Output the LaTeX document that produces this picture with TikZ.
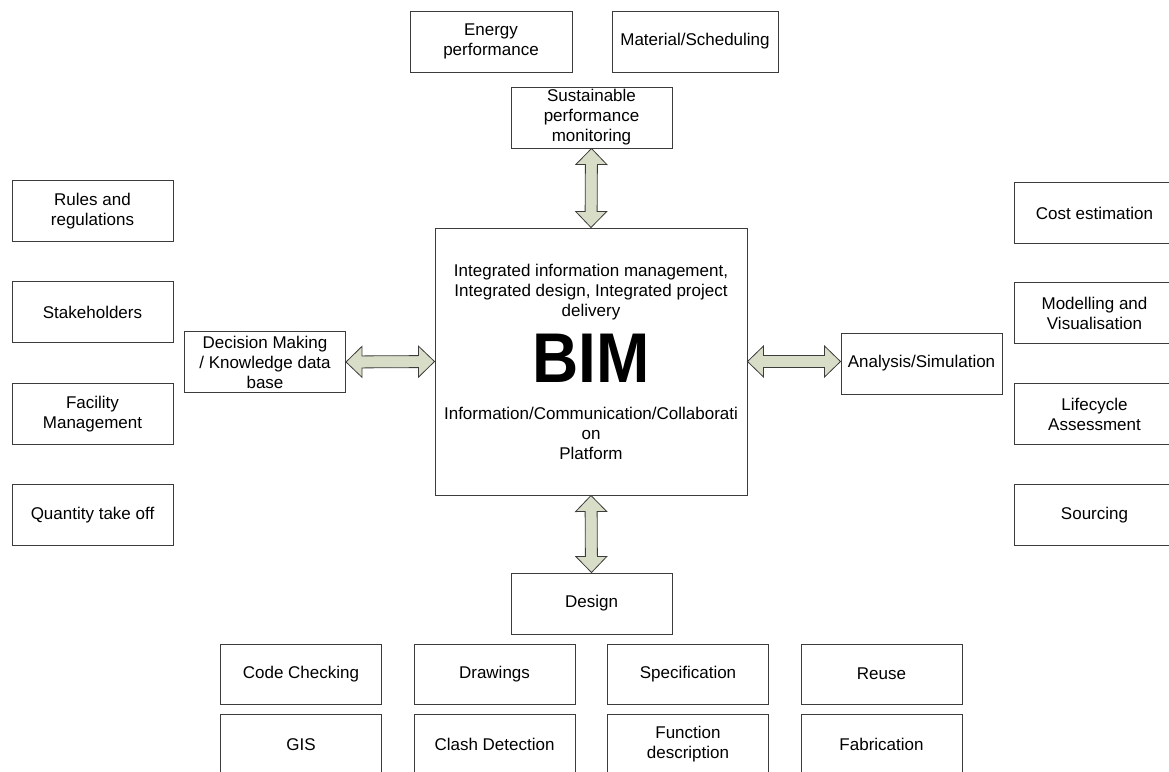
\documentclass[tikz,border=0pt]{standalone}
\usepackage{fontspec}
\setmainfont{Liberation Sans}
\usetikzlibrary{calc}
\definecolor{arrowfill}{RGB}{216,221,199}
\definecolor{edge}{RGB}{60,60,60}

\begin{document}
\begin{tikzpicture}
        [x=1pt,y=-1pt,font=\fontsize{17}{20}\selectfont]
            \tikzstyle{box}=[rectangle, draw=edge, line width=1pt, fill=white,
        align=center, inner sep=2pt, minimum width=161pt, minimum height=61pt]
            \tikzstyle{plain}=[align=center, inner sep=0pt]
            \tikzstyle{fatarrow}=[draw=edge, line width=0.8pt, fill=arrowfill,
        line join=miter, to path={
          -- ($(\tikztostart)!16pt!(\tikztotarget)!15.5pt!90:(\tikztotarget)$)
          -- ($(\tikztostart)!16pt!(\tikztotarget)!6pt!90:(\tikztotarget)$)
          -- ($(\tikztotarget)!16pt!(\tikztostart)!6pt!90:(\tikztotarget)$)
          -- ($(\tikztotarget)!16pt!(\tikztostart)!15.5pt!90:(\tikztotarget)$)
          -- (\tikztotarget)
          -- ($(\tikztotarget)!16pt!(\tikztostart)!15.5pt!-90:(\tikztotarget)$)
          -- ($(\tikztotarget)!16pt!(\tikztostart)!6pt!-90:(\tikztotarget)$)
          -- ($(\tikztostart)!16pt!(\tikztotarget)!6pt!-90:(\tikztotarget)$)
          -- ($(\tikztostart)!16pt!(\tikztotarget)!15.5pt!-90:(\tikztotarget)$)
          -- cycle}]
        \path[use as bounding box, clip] (0,0) rectangle (1169,771);

        %-----centre
         \node[box, minimum width=312pt, minimum height=267pt] (bim) at (591,361.5) {};
         \node[plain] (bimtop) at (591,292) {Integrated information management,\\Integrated design, Integrated project\\delivery};
         \node[plain] (bimname) at (591,358) {\scalebox{1}[1.1]{\fontsize{64}{64}\selectfont\bfseries BIM}};
         \node[plain] (bimbottom) at (591,433) {Information/Communication/Collaborati\\on\\Platform};

        %-----top
         \node[box, minimum width=162pt] (energy) at (491,41.5) {Energy\\performance};
         \node[box, minimum width=166pt] (material) at (695,41.5) {Material/Scheduling};
         \node[box] (sustain) at (591.5,117.5) {Sustainable\\performance\\monitoring};

        %-----left
         \node[box] (rules) at (92.5,211) {Rules and\\regulations};
         \node[box] (stake) at (92.5,312) {Stakeholders};
         \node[box] (facility) at (92.5,414) {Facility\\Management};
         \node[box] (quantity) at (92.5,515) {Quantity take off};
         \node[box] (decision) at (265,362) {Decision Making\\/ Knowledge data\\base};

        %-----right
         \node[box] (analysis) at (921.5,363.5) {Analysis/Simulation};
         \node[box] (cost) at (1094.5,213) {Cost estimation};
         \node[box] (model) at (1094.5,313) {Modelling and\\Visualisation};
         \node[box] (lifecycle) at (1094.5,414) {Lifecycle\\Assessment};
         \node[box] (sourcing) at (1094.5,515) {Sourcing};

        %-----bottom
         \node[box] (design) at (591.5,603.5) {Design};
         \node[box, minimum height=60pt] (code) at (301,674) {Code Checking};
         \node[box, minimum height=60pt] (drawings) at (494.5,674) {Drawings};
         \node[box, minimum height=60pt] (spec) at (688,674) {Specification};
         \node[box, minimum height=60pt] (reuse) at (881.5,674) {Reuse};
         \node[box] (gis) at (301,744.5) {GIS};
         \node[box] (clash) at (494.5,744.5) {Clash Detection};
         \node[box] (function) at (688,744.5) {Function\\description};
         \node[box] (fabrication) at (881.5,744.5) {Fabrication};

         \foreach \from/\to in {sustain.south/bim.north, bim.south/design.north, decision.east/bim.west, bim.east/bim.east -| analysis.west}
         \draw[fatarrow] (\from) to (\to);

        \end{tikzpicture}
\end{document}
